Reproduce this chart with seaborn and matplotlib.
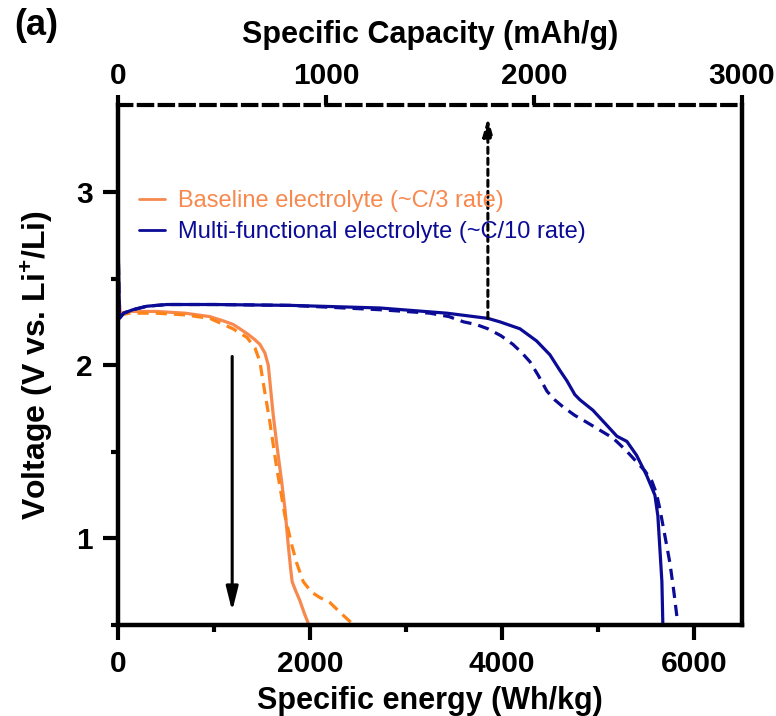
import matplotlib
matplotlib.use("Agg")
import matplotlib.pyplot as plt
from matplotlib.lines import Line2D
import numpy as np
import pandas as pd
import seaborn as sns

# ---------------- data ----------------
energy_base_solid = [0, 8, 25, 120, 400, 700, 958, 1100, 1200, 1270, 1350, 1420, 1479, 1531, 1566, 1618, 1660, 1705, 1740, 1771, 1800, 1815, 1850, 1896, 1940, 1990]
volt_base_solid   = [2.85, 2.40, 2.30, 2.31, 2.31, 2.30, 2.28, 2.255, 2.235, 2.21, 2.18, 2.15, 2.12, 2.07, 2.00, 1.71, 1.52, 1.33, 1.17, 0.98, 0.82, 0.75, 0.70, 0.64, 0.57, 0.50]

energy_base_dash = [0, 8, 25, 120, 400, 700, 958, 1198, 1344, 1427, 1479, 1510, 1583, 1656, 1740, 1812, 1861, 1931, 2017, 2100, 2208, 2320, 2438]
volt_base_dash   = [2.82, 2.40, 2.29, 2.30, 2.30, 2.29, 2.27, 2.21, 2.16, 2.10, 2.02, 1.91, 1.67, 1.40, 1.13, 0.96, 0.86, 0.75, 0.69, 0.66, 0.63, 0.57, 0.51]

energy_mf_solid = [0, 5, 15, 60, 156, 300, 510, 1000, 1800, 2729, 3427, 3854, 3979, 4188, 4361, 4500, 4604, 4677, 4760, 4813, 4948, 5090, 5198, 5250, 5302, 5403, 5507, 5594, 5625, 5646, 5667, 5677]
volt_mf_solid   = [2.95, 2.60, 2.27, 2.30, 2.32, 2.34, 2.35, 2.35, 2.345, 2.33, 2.30, 2.27, 2.25, 2.21, 2.14, 2.06, 1.97, 1.91, 1.83, 1.80, 1.74, 1.655, 1.59, 1.575, 1.56, 1.48, 1.365, 1.25, 1.13, 0.94, 0.75, 0.50]

energy_mf_dash = [0, 5, 15, 60, 156, 300, 510, 1000, 1800, 2729, 3250, 3450, 3600, 3730, 3854, 3990, 4115, 4210, 4292, 4380, 4469, 4550, 4635, 4760, 4885, 5020, 5156, 5290, 5406, 5490, 5563, 5610, 5646, 5700, 5750, 5790, 5823]
volt_mf_dash   = [2.90, 2.60, 2.27, 2.30, 2.32, 2.34, 2.35, 2.35, 2.345, 2.32, 2.30, 2.28, 2.25, 2.235, 2.21, 2.17, 2.12, 2.07, 2.02, 1.94, 1.85, 1.80, 1.76, 1.71, 1.67, 1.625, 1.58, 1.51, 1.44, 1.39, 1.33, 1.26, 1.17, 1.01, 0.86, 0.70, 0.55]

legend_labels = ["Baseline electrolyte (~C/3 rate)", "Multi-functional electrolyte (~C/10 rate)"]
energy_ticks = [0, 2000, 4000, 6000]
energy_minor = [1000, 3000, 5000]
capacity_ticks = [0, 1000, 2000, 3000]
volt_ticks = [1, 2, 3]
volt_minor = [0.5, 1.5, 2.5]
energy_max, capacity_max = 6500, 3000

arrow_down = [(1190, 2.05), (1190, 0.58)]   # (x, y) start -> end
arrow_up = [(3854, 2.27), (3854, 3.43)]

# ---------------- style ----------------
sns.set_theme(style="ticks")
plt.rcParams["font.family"] = ["Liberation Sans", "DejaVu Sans"]
plt.rcParams["mathtext.fontset"] = "custom"
plt.rcParams["mathtext.rm"] = "Liberation Sans"
plt.rcParams["mathtext.bf"] = "Liberation Sans:bold"
for k in ["text.color", "axes.labelcolor", "xtick.color", "ytick.color", "axes.edgecolor"]:
    plt.rcParams[k] = "black"

ORANGE = "#F7894F"
ORANGE_D = "#FF8418"
BLUE = "#0B0B96"

fig = plt.figure(figsize=(7.76, 7.16), dpi=100)
ax = fig.add_axes([0.152, 0.127, 0.804, 0.726])

def df_of(x, y):
    return pd.DataFrame({"energy": x, "voltage": y})

lw = 2.3
dash = (0, (3.5, 2.2))
sns.lineplot(data=df_of(energy_base_solid, volt_base_solid), x="energy", y="voltage",
             sort=False, estimator=None, color=ORANGE, lw=lw, ax=ax)
sns.lineplot(data=df_of(energy_base_dash, volt_base_dash), x="energy", y="voltage",
             sort=False, estimator=None, color=ORANGE_D, lw=lw, ax=ax, linestyle=dash)
sns.lineplot(data=df_of(energy_mf_solid, volt_mf_solid), x="energy", y="voltage",
             sort=False, estimator=None, color=BLUE, lw=lw, ax=ax)
sns.lineplot(data=df_of(energy_mf_dash, volt_mf_dash), x="energy", y="voltage",
             sort=False, estimator=None, color=BLUE, lw=lw, ax=ax, linestyle=dash)

ax.set_xlim(0, energy_max)
ax.set_ylim(0.5, 3.5)

ax.set_xticks(energy_ticks)
ax.set_xticks(energy_minor, minor=True)
ax.set_yticks(volt_ticks)
ax.set_yticks(volt_minor, minor=True)

tick_fs = 21.5
ax.tick_params(axis="both", which="major", direction="out", length=11, width=3,
               labelsize=tick_fs, color="black", pad=7)
ax.tick_params(axis="both", which="minor", direction="out", length=5, width=3, color="black")
ax.tick_params(axis="x", top=False)
for lab in ax.get_xticklabels() + ax.get_yticklabels():
    lab.set_fontweight("bold")

for s in ["left", "bottom", "right"]:
    ax.spines[s].set_linewidth(3.2)
    ax.spines[s].set_color("black")
ax.spines["top"].set_visible(False)

ax.set_xlabel("Specific energy (Wh/kg)", fontsize=22, fontweight="bold", labelpad=6)
ax.set_ylabel(r"Voltage (V vs. Li$^{\mathbf{+}}$/Li)", fontsize=23, fontweight="bold", labelpad=15)

# top axis (capacity)
ax2 = ax.twiny()
ax2.set_xlim(0, capacity_max)
ax2.set_xticks(capacity_ticks)
for s in ["left", "bottom", "right"]:
    ax2.spines[s].set_visible(False)
ax2.spines["top"].set_linewidth(3)
ax2.spines["top"].set_linestyle((0, (3.2, 1.8)))
ax2.spines["top"].set_color("black")
ax2.tick_params(axis="x", which="major", direction="out", length=7, width=3,
                labelsize=tick_fs, pad=4, color="black")
for lab in ax2.get_xticklabels():
    lab.set_fontweight("bold")
ax2.set_xlabel("Specific Capacity (mAh/g)", fontsize=22, fontweight="bold", labelpad=14)

# arrows
ax.annotate("", xy=arrow_down[1], xytext=arrow_down[0],
            arrowprops=dict(arrowstyle="-|>,head_length=1.2,head_width=0.3",
                            color="black", lw=2.2, shrinkA=0, shrinkB=0))
ax.annotate("", xy=arrow_up[1], xytext=arrow_up[0],
            arrowprops=dict(arrowstyle="-|>,head_length=0.9,head_width=0.25",
                            color="black", lw=2.2, linestyle=(0, (2.0, 1.6)),
                            shrinkA=0, shrinkB=0))

# legend
handles = [Line2D([], [], color=ORANGE, lw=2), Line2D([], [], color=BLUE, lw=2)]
leg = ax.legend(handles, legend_labels, loc="upper left", bbox_to_anchor=(0.0, 0.878),
                frameon=False, fontsize=17, handlelength=1.1, handletextpad=0.55,
                labelspacing=0.38, labelcolor=[ORANGE, BLUE])

fig.text(0.018, 0.965, "(a)", fontsize=26, fontweight="bold", va="center", ha="left")

fig.savefig("out.png", dpi=100)
